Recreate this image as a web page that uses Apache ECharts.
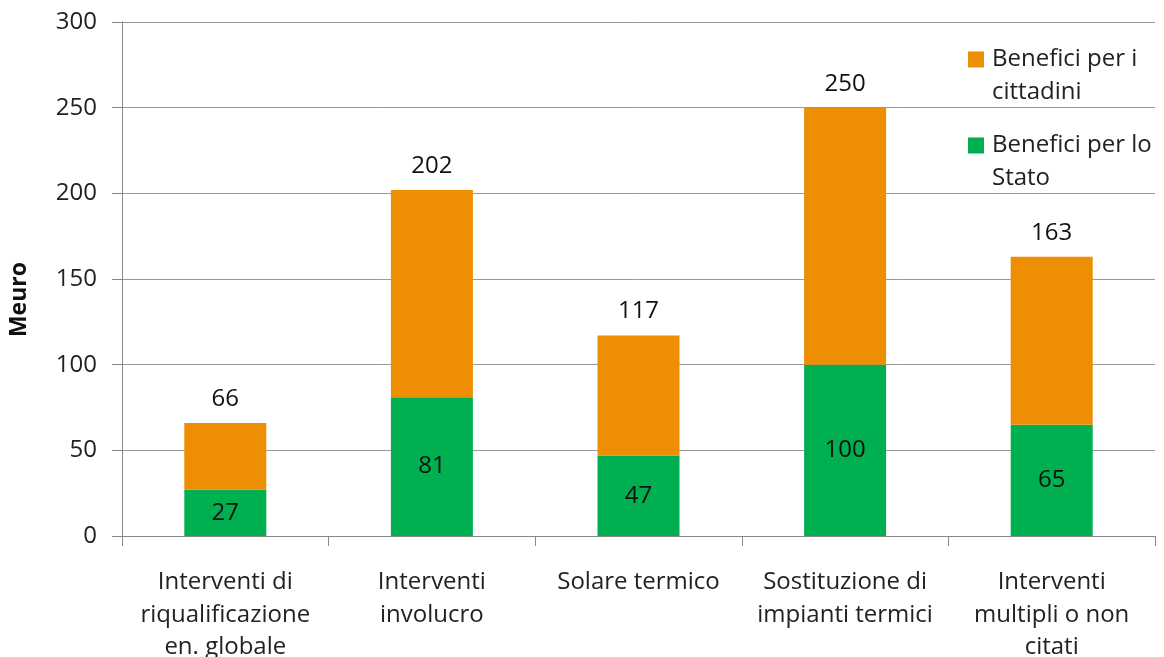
<!DOCTYPE html>
<html><head><meta charset="utf-8">
<script src="https://cdn.jsdelivr.net/npm/echarts@6/dist/echarts.min.js"></script>
<style>html,body{margin:0;padding:0;background:#fff}#c{width:1164px;height:657px}</style>
</head><body><div id="c"></div>
<script>
const categories = ['Interventi di\nriqualificazione\nen. globale','Interventi\ninvolucro','Solare termico','Sostituzione di\nimpianti termici','Interventi\nmultipli o non\ncitati'];
const stato = [27, 81, 47, 100, 65];
const totals = [66, 202, 117, 250, 163];
const cittadini = totals.map((t, i) => t - stato[i]);
const yTicks = [0, 50, 100, 150, 200, 250, 300];
const seriesNames = ['Benefici per i\ncittadini', 'Benefici per lo\nStato'];

const FONT = '"Open Sans", sans-serif';
// legend icon: a 16px square in the upper part of a 19x66 box (so it sits beside the first text line)
const legendIcon = 'path://M0,8.5h16v16h-16z M0,0h0.01v0.01h-0.01z M18.99,65.99h0.01v0.01h-0.01z';
const chart = echarts.init(document.getElementById('c'));
chart.setOption({
  animation: false,
  textStyle: { fontFamily: FONT },
  grid: { left: 122, top: 22, right: 9, bottom: 121, containLabel: false, outerBoundsMode: 'none' },
  legend: {
    orient: 'vertical', left: 963, top: 38,
    itemWidth: 19, itemHeight: 66, itemGap: 20, icon: legendIcon,
    data: [seriesNames[0], seriesNames[1]],
    textStyle: { fontSize: 24, color: '#222', lineHeight: 33, fontFamily: FONT }
  },
  xAxis: {
    type: 'category', data: categories,
    axisLine: { lineStyle: { color: '#888', width: 1 } },
    axisTick: { show: true, length: 10, lineStyle: { color: '#888' } },
    axisLabel: { fontSize: 24, color: '#222', lineHeight: 32.5, margin: 30, interval: 0 }
  },
  yAxis: {
    type: 'value', min: yTicks[0], max: yTicks[yTicks.length - 1], interval: 50,
    axisLine: { show: true, lineStyle: { color: '#888' } },
    axisTick: { show: true, length: 10, lineStyle: { color: '#888' } },
    splitLine: { show: true, lineStyle: { color: '#999', width: 1 } },
    axisLabel: { fontSize: 24, color: '#222', margin: 25 }
  },
  graphic: [{
    type: 'text', left: 8, top: 262, rotation: Math.PI / 2,
    style: { text: 'Meuro', font: 'bold 23px ' + FONT, fill: '#111' }
  }],
  series: [
    {
      name: seriesNames[1], type: 'bar', stack: 's', data: stato, barWidth: 82,
      itemStyle: { color: '#00B050' },
      label: { show: true, position: 'inside', fontSize: 24, color: '#111' }
    },
    {
      name: seriesNames[0], type: 'bar', stack: 's', data: cittadini, barWidth: 82,
      itemStyle: { color: '#EE8E03' },
      label: { show: true, position: 'top', distance: 12, fontSize: 24, color: '#111',
        formatter: p => totals[p.dataIndex] }
    }
  ]
});
</script></body></html>
